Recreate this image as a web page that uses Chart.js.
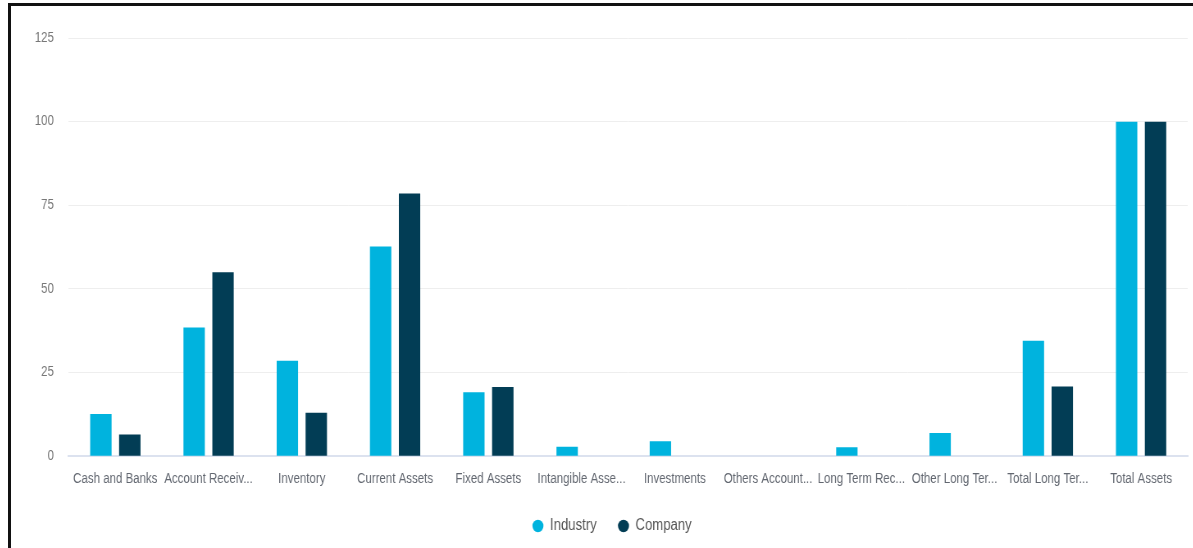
<!DOCTYPE html>
<html>
<head>
<meta charset="utf-8">
<script src="https://cdn.jsdelivr.net/npm/chart.js@4"></script>
<style>
  html, body { margin: 0; padding: 0; background: #fff; overflow: hidden; }
  #frame { position: absolute; left: 8px; top: 3px; width: 1200px; height: 560px;
           border-left: 3px solid #111; border-top: 3px solid #111; background: #fff; overflow: hidden; }
  /* chart is drawn wider and squeezed horizontally, like the condensed reference */
  #wrap { position: absolute; left: 0; top: 0; width: 1441px; height: 542px;
          transform: scaleX(0.82); transform-origin: 0 0; }
</style>
</head>
<body>
<div id="frame"><div id="wrap"><canvas id="c"></canvas></div></div>
<script>
const categories = ["Cash and Banks", "Account Receiv...", "Inventory", "Current Assets",
  "Fixed Assets", "Intangible Asse...", "Investments", "Others Account...",
  "Long Term Rec...", "Other Long Ter...", "Total Long Ter...", "Total Assets"];
const industryValues = [12.6, 38.5, 28.5, 62.7, 19.1, 2.8, 4.5, 0, 2.7, 6.9, 34.5, 100];
const companyValues  = [6.5, 55, 13, 78.5, 20.7, 0, 0, 0, 0, 0, 20.8, 100];
const yTicks = [0, 25, 50, 75, 100, 125];

const FONT = "'Liberation Sans', Arial, sans-serif";

const legendShift = {
  id: 'legendShift',
  afterLayout(chart) {
    if (chart.legend) { chart.legend.left += 20; }
  }
};

new Chart(document.getElementById('c'), {
  type: 'bar',
  data: {
    labels: categories,
    datasets: [
      { label: 'Industry', data: industryValues, backgroundColor: '#00B3DE', borderWidth: 0 },
      { label: 'Company', data: companyValues, backgroundColor: '#023D55', borderWidth: 0 }
    ]
  },
  plugins: [legendShift],
  options: {
    responsive: true,
    maintainAspectRatio: false,
    animation: false,
    layout: { padding: { left: 11, right: 6, top: 32, bottom: 4 } },
    datasets: { bar: { categoryPercentage: 0.62, barPercentage: 0.74 } },
    scales: {
      x: {
        grid: { display: false, drawTicks: false },
        border: { display: true, color: '#dce2ef', width: 2 },
        afterFit: (axis) => { axis.height -= 11; },
        ticks: { autoSkip: false, maxRotation: 0, minRotation: 0, padding: 15,
                 color: '#626770', font: { family: FONT, size: 14 } }
      },
      y: {
        min: 0, max: 125,
        afterBuildTicks: (axis) => { axis.ticks = yTicks.map(v => ({ value: v })); },
        grid: { color: '#eeeeee', drawTicks: false, lineWidth: 1 },
        border: { display: false },
        ticks: { padding: 18, color: '#777', font: { family: FONT, size: 14 } }
      }
    },
    plugins: {
      tooltip: { enabled: false },
      legend: {
        position: 'bottom',
        labels: {
          usePointStyle: true, pointStyle: 'circle', pointStyleWidth: 13.4, boxHeight: 8.8,
          padding: 26, color: '#555', font: { family: FONT, size: 16 }
        }
      }
    }
  }
});
</script>
</body>
</html>
